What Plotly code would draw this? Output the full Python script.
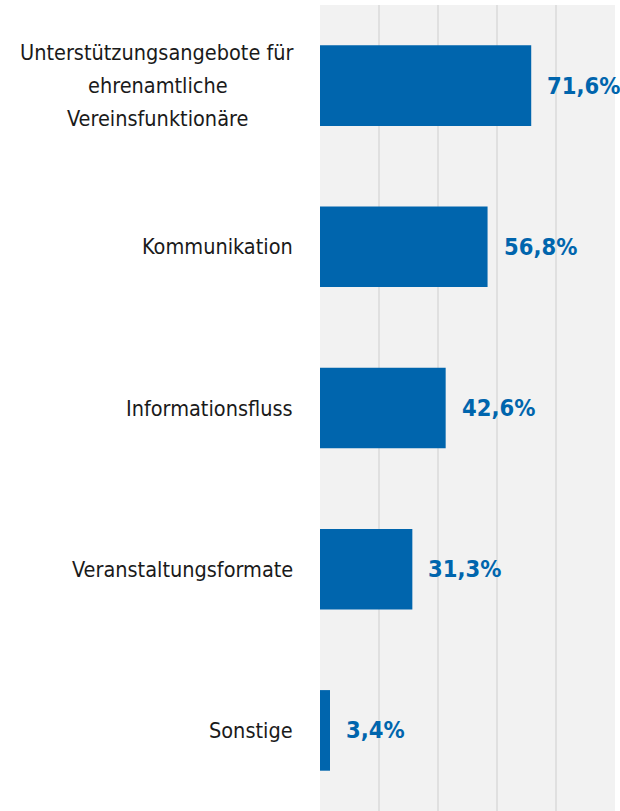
import plotly.graph_objects as go

categories = [
    "Unterstützungsangebote für<br>ehrenamtliche<br>Vereinsfunktionäre",
    "Kommunikation",
    "Informationsfluss",
    "Veranstaltungsformate",
    "Sonstige",
]
values = [71.6, 56.8, 42.6, 31.3, 3.4]
grid_ticks = [0, 20, 40, 60, 80, 100]

BLUE = "#0065AD"
LABEL_FONT = "Liberation Sans Narrow, DejaVu Sans Condensed, Roboto Condensed, Roboto, sans-serif"
LINE_HEIGHT = 33      # px between lines of a wrapped category label
LABEL_GAP = 25        # px between category labels and the plot area
WRAP_BLOCK_WIDTH = 275  # px width of the widest line in a wrapped label

fig = go.Figure(
    go.Bar(
        x=values,
        y=categories,
        orientation="h",
        marker=dict(color=BLUE, line=dict(width=0)),
        width=0.5,
        hoverinfo="skip",
    )
)

annotations = []
# category names right of the page, wrapped lines centred under the widest one
for cat in categories:
    lines = cat.split("<br>")
    widest = max(lines, key=len)
    n = len(lines)
    for i, line in enumerate(lines):
        if line == widest:
            anchor, shift = "right", -LABEL_GAP
        else:
            anchor, shift = "center", -LABEL_GAP - WRAP_BLOCK_WIDTH / 2
        annotations.append(dict(
            x=0, xref="paper", xanchor=anchor, xshift=shift,
            y=cat, yref="y", yanchor="middle",
            yshift=((n - 1) / 2 - i) * LINE_HEIGHT,
            text=line, showarrow=False,
            font=dict(family=LABEL_FONT, size=21.5, color="#1a1a1a"),
        ))

# value labels just past the end of each bar
for cat, v in zip(categories, values):
    annotations.append(dict(
        x=v, xref="x", xanchor="left", xshift=14,
        y=cat, yref="y", yanchor="middle",
        text=f"<b>{v:.1f}%</b>".replace(".", ","), showarrow=False,
        font=dict(family=LABEL_FONT, size=23.5, color=BLUE),
    ))

fig.update_layout(
    width=620,
    height=811,
    margin=dict(l=320, r=5, t=5, b=0),
    paper_bgcolor="white",
    plot_bgcolor="#F2F2F2",
    showlegend=False,
    annotations=annotations,
    xaxis=dict(
        range=[0, 100],
        tickvals=grid_ticks,
        showticklabels=False,
        showgrid=True,
        gridcolor="#E0E0E0",
        gridwidth=1.5,
        zeroline=False,
        showline=False,
        fixedrange=True,
    ),
    yaxis=dict(
        categoryorder="array",
        categoryarray=categories,
        autorange="reversed",
        showticklabels=False,
        showgrid=False,
        zeroline=False,
        showline=False,
        fixedrange=True,
    ),
)

fig.write_html("out.html")
